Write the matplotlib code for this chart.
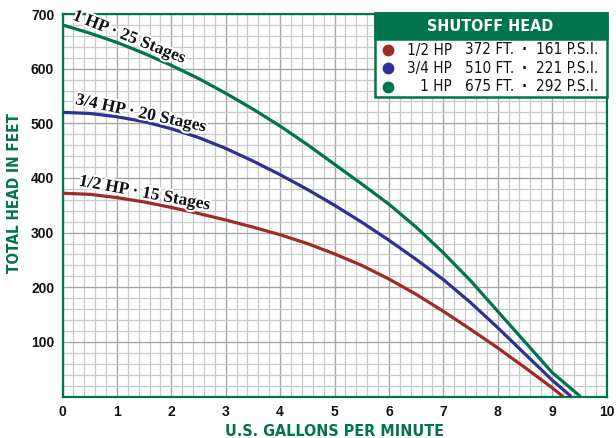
import matplotlib
matplotlib.use("Agg")
import matplotlib.pyplot as plt
from matplotlib import font_manager as fm
from matplotlib.patches import Rectangle
from matplotlib.lines import Line2D
import matplotlib.patheffects as pe
import numpy as np

# ---------------- data ----------------
gpm_half = [0, 0.5, 1, 1.5, 2, 2.5, 3, 3.5, 4, 4.5, 5, 5.5, 6, 6.5, 7, 7.5, 8, 8.5, 9, 9.2]
head_half = [372, 370, 364, 356, 346, 335, 323, 310, 296, 280, 261, 240, 215, 187, 156, 123, 89, 53, 16, 0]

gpm_34 = [0, 0.5, 1, 1.5, 2, 2.5, 3, 3.5, 4, 4.5, 5, 5.5, 6, 6.5, 7, 7.5, 8, 8.5, 9, 9.35]
head_34 = [520, 518, 512, 503, 490, 474, 454, 431, 406, 379, 350, 319, 286, 251, 214, 172, 126, 78, 30, 0]

gpm_1 = [0, 0.5, 1, 1.5, 2, 2.5, 3, 3.5, 4, 4.5, 5, 5.5, 6, 6.5, 7, 7.5, 8, 8.5, 9, 9.52]
head_1 = [680, 665, 648, 628, 606, 582, 555, 526, 495, 461, 425, 389, 352, 310, 263, 212, 156, 100, 44, 0]

series_names = ["1/2 HP", "3/4 HP", "1 HP"]
curve_labels = ["1/2 HP · 15 Stages", "3/4 HP · 20 Stages", "1 HP · 25 Stages"]
shutoff_ft = ["372 FT.", "510 FT.", "675 FT."]
shutoff_psi = ["161 P.S.I.", "221 P.S.I.", "292 P.S.I."]
x_ticks = list(range(0, 11))
y_ticks = [100, 200, 300, 400, 500, 600, 700]

RED = "#9e2b25"
BLUE = "#2e3192"
GREEN = "#00744c"
colors = [RED, BLUE, GREEN]

# ---------------- fonts ----------------
names = {f.name for f in fm.fontManager.ttflist}
if "Liberation Sans Narrow" in names:
    COND = dict(family="Liberation Sans Narrow")
else:
    COND = dict(family="DejaVu Sans", stretch="condensed")
SANS = "Liberation Sans" if "Liberation Sans" in names else "DejaVu Sans"
SERIF = "Liberation Serif" if "Liberation Serif" in names else "DejaVu Serif"

W, H = 616, 438
fig = plt.figure(figsize=(W / 100, H / 100), dpi=100)

def fx(px):
    return px / W

def fy(py):
    return 1 - py / H

L, R, T, B = 62.5, 606.5, 14.0, 396.5
ax = fig.add_axes([fx(L), fy(B), fx(R - L), (B - T) / H])
ax.set_xlim(0, 10)
ax.set_ylim(0, 700)

ax.set_xticks(x_ticks)
ax.set_yticks(y_ticks)
ax.set_xticks(np.arange(0, 10.01, 0.2), minor=True)
ax.set_yticks(np.arange(0, 701, 20), minor=True)
ax.grid(which="minor", color="#c9c9c9", lw=0.9, zorder=0)
ax.grid(which="major", color="#a6a6a6", lw=1.0, zorder=0)
ax.set_axisbelow(True)
ax.tick_params(which="both", length=0, pad=6)
for lab in ax.get_xticklabels() + ax.get_yticklabels():
    lab.set_fontfamily(SANS)
    lab.set_fontweight("bold")
    lab.set_fontsize(10)
    lab.set_color("#111111")
for s in ax.spines.values():
    s.set_color(GREEN)
    s.set_linewidth(1.6)

xs = [gpm_half, gpm_34, gpm_1]
ys = [head_half, head_34, head_1]
for x, y, c in zip(xs, ys, colors):
    ax.plot(x, y, color=c, lw=2.3, solid_capstyle="butt",
            solid_joinstyle="round", zorder=3)

# curve labels (baseline sitting on top of each curve)
halo = [pe.withStroke(linewidth=3, foreground="white")]
lab_pos = [(1.50, 364, -10.5), (1.43, 510, -12.0), (1.20, 650, -21.5)]
for (x0, y0, rot), txt in zip(lab_pos, curve_labels):
    ax.text(x0, y0, txt, family=SERIF, weight="bold", fontsize=12.5,
            rotation=rot, rotation_mode="anchor", ha="center", va="baseline",
            color="#111111", path_effects=halo, zorder=4)

# axis labels
fig.text(fx(335), fy(436.5), "U.S. GALLONS PER MINUTE", color=GREEN,
         weight="bold", fontsize=11.5, ha="center", va="baseline", **COND)
fig.text(fx(14.5), fy(193), "TOTAL HEAD IN FEET", color=GREEN,
         weight="bold", fontsize=11, ha="center", va="center",
         rotation=90, **COND)

# legend box
bx0, bx1, by0, by1, hy = 375, 607, 13.3, 96.7, 39
fig.add_artist(Rectangle((fx(bx0), fy(by1)), fx(bx1 - bx0), (by1 - by0) / H,
                         transform=fig.transFigure, facecolor="white",
                         edgecolor=GREEN, lw=1.8, zorder=5))
fig.add_artist(Rectangle((fx(bx0), fy(hy)), fx(bx1 - bx0), (hy - by0) / H,
                         transform=fig.transFigure, facecolor=GREEN,
                         edgecolor=GREEN, lw=1.8, zorder=6))
fig.text(fx(490), fy(26.5), "SHUTOFF HEAD", color="white", weight="bold",
         fontsize=11.5, ha="center", va="center", zorder=7, **COND)
row_y = [50, 68.3, 86.7]
for ry, c, nm, ft, psi in zip(row_y, colors, series_names, shutoff_ft, shutoff_psi):
    fig.add_artist(Line2D([fx(388)], [fy(ry)], marker="o", markersize=7.5,
                          color=c, transform=fig.transFigure, zorder=7))
    kw = dict(fontsize=11, va="center", color="#111111", zorder=7, **COND)
    fig.text(fx(452), fy(ry), nm, ha="right", **kw)
    fig.text(fx(465), fy(ry), ft, ha="left", **kw)
    fig.text(fx(524), fy(ry), "·", ha="center", weight="bold", **kw)
    fig.text(fx(598), fy(ry), psi, ha="right", **kw)

fig.savefig("out.png", dpi=100)
